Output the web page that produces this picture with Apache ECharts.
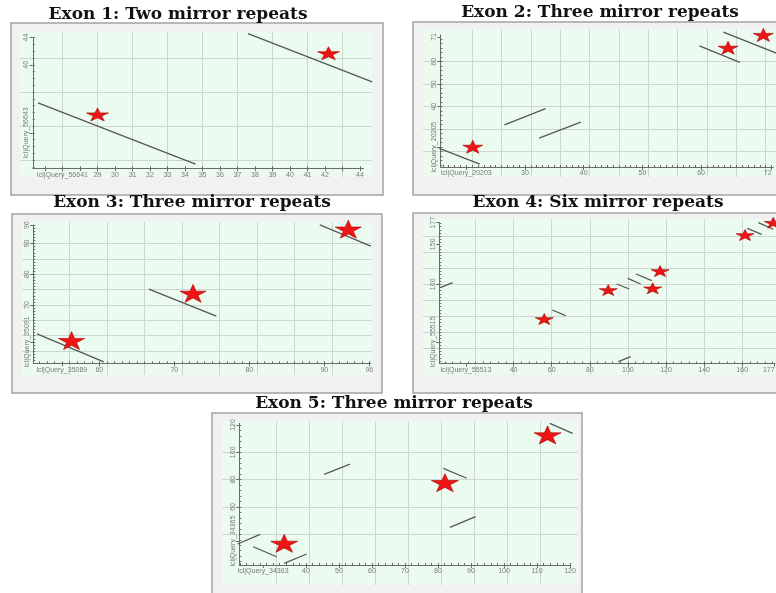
<!DOCTYPE html>
<html>
<head>
<meta charset="utf-8">
<script src="https://cdn.jsdelivr.net/npm/echarts@6/dist/echarts.min.js"></script>
<style>
  html, body { margin: 0; background: #fff; }
  #chart { width: 776px; height: 593px; }
</style>
</head>
<body>
<div id="chart"></div>
<script>
// panel titles and the two query names of each dot plot
const titles = [
  'Exon 1: Two mirror repeats',
  'Exon 2: Three mirror repeats',
  'Exon 3: Three mirror repeats',
  'Exon 4: Six mirror repeats',
  'Exon 5: Three mirror repeats'
]
const queryX = ['lcl|Query_56641', 'lcl|Query_20203', 'lcl|Query_35089', 'lcl|Query_55513', 'lcl|Query_34363']
const queryY = ['lcl|Query_56643', 'lcl|Query_20205', 'lcl|Query_35091', 'lcl|Query_55515', 'lcl|Query_34365']
const queryXAt = [27, 20, 55, 15, 27]
const queryYAt = [30, 22, 58, 28, 35]

// tick labels
const exon1XLabels = [29, 30, 31, 32, 33, 34, 35, 36, 37, 38, 39, 40, 41, 42, 44]
const exon1YLabels = [40, 44]
const exon2XLabels = [30, 40, 50, 60, 72]
const exon2YLabels = [40, 50, 60, 71]
const exon3XLabels = [60, 70, 80, 90, 96]
const exon3YLabels = [70, 80, 90, 96]
const exon4XLabels = [40, 60, 80, 100, 120, 140, 160, 177]
const exon4YLabels = [100, 150, 177]
const exon5XLabels = [40, 50, 60, 70, 80, 90, 100, 110, 120]
const exon5YLabels = [60, 80, 100, 120]

// alignment segments [x1, y1, x2, y2]
const exon1Segments = [[25.6, 34.4, 34.6, 25.4], [37.6, 44.6, 44.7, 37.5]]
const exon2Segments = [[15.4, 21.5, 22.3, 14.5], [26.5, 31.9, 33.5, 39.1], [32.4, 26.0, 39.5, 33.1],
  [59.7, 67.0, 66.6, 59.7], [63.8, 73.1, 72.9, 63.7]]
const exon3Segments = [[51.7, 60.6, 60.6, 51.5], [66.6, 75.2, 75.6, 66.4], [89.4, 96.1, 96.2, 89.2]]
const exon4Segments = [[1.4, 95.8, 8.0, 102.0], [60.3, 67.9, 67.3, 60.8], [94.1, 100.4, 100.7, 94.1],
  [99.9, 107.5, 106.7, 100.4], [104.3, 112.9, 112.5, 104.5], [95.0, 3.3, 101.5, 9.5],
  [162.7, 170.0, 170.2, 162.5], [168.5, 177.0, 176.3, 168.8]]
const exon5Segments = [[19.3, 32.9, 26.1, 40.0], [24.0, 30.9, 31.1, 23.6], [33.4, 18.8, 40.2, 25.6],
  [45.5, 83.9, 53.3, 91.4], [81.6, 88.3, 88.7, 81.0], [83.6, 45.1, 91.4, 52.9], [113.9, 121.2, 120.8, 113.9]]

// mirror repeat markers [x, y]
const exon1Stars = [[29.0, 32.7], [42.2, 41.7]]
const exon2Stars = [[21.1, 22.2], [64.6, 66.2], [70.6, 71.9]]
const exon3Stars = [[56.3, 58.4], [72.5, 73.8], [93.2, 94.7]]
const exon4Stars = [[56.1, 56.6], [89.7, 92.9], [113.0, 95.0], [116.9, 116.6], [161.5, 161.6], [176.3, 177.0]]
const exon5Stars = [[33.4, 33.4], [82.1, 77.8], [113.2, 112.7]]

const STAR = 'path://M50 0 L61.2 34.5 L97.6 34.5 L68.2 55.9 L79.4 90.5 L50 69.1 L20.6 90.5 L31.8 55.9 L2.4 34.5 L38.8 34.5 Z'

function range(a, b, step) {
  const out = []
  for (let v = a; v <= b + 1e-9; v += step) out.push(+v.toFixed(3))
  return out
}

// layout of each panel: px boxes + scale [anchorPx, anchorValue, pxPerUnit]
const panels = [
  {
    titleAt: [178, 6], frame: [11, 23, 383, 195], green: [20, 32, 372, 177],
    xs: [62.5, 27, 17.5], ys: [58, 41, 6.8], xRange: [25.3, 44.2], yRange: [24.8, 44.0],
    xLabels: exon1XLabels, yLabels: exon1YLabels, xTicks: range(26, 44, 1), yTicks: [30, 40, 44],
    xMinor: range(26, 44, 1), yMinor: range(25, 44, 1), xSplit: range(27, 43, 2), ySplit: [26, 31, 36, 41],
    segments: exon1Segments, stars: exon1Stars, star: [22, 13]
  },
  {
    titleAt: [600, 4], frame: [413, 22, 790, 195], green: [423, 29, 776, 177],
    xs: [525, 30, 5.87], ys: [61.7, 60, 2.25], xRange: [15.6, 72.3], yRange: [13.2, 71.9],
    xLabels: exon2XLabels, yLabels: exon2YLabels, alignMax: 'right',
    xMinor: range(16, 72, 1), yMinor: range(14, 70, 2), xSplit: range(21, 71, 5), ySplit: range(20, 60, 10),
    segments: exon2Segments, stars: exon2Stars, star: [20, 13]
  },
  {
    titleAt: [192, 194], frame: [12, 214, 382, 393], green: [22, 222, 372, 375],
    xs: [99.3, 60, 7.5], ys: [274.3, 80, 3.07], xRange: [51.2, 96.2], yRange: [51, 96],
    xLabels: exon3XLabels, yLabels: exon3YLabels,
    xMinor: range(52, 96, 1), yMinor: range(52, 96, 1), xSplit: range(56, 91, 5), ySplit: range(55, 90, 5),
    segments: exon3Segments, stars: exon3Stars, star: [26, 18]
  },
  {
    titleAt: [598, 194], frame: [413, 213, 790, 393], green: [423, 219, 776, 375],
    xs: [551.7, 60, 1.905], ys: [284.3, 100, 0.8], xRange: [1, 177.2], yRange: [1, 177.2],
    xLabels: exon4XLabels, yLabels: exon4YLabels, alignMax: 'right',
    xMinor: range(4, 176, 4), yMinor: range(4, 176, 4), xSplit: range(20, 160, 20), ySplit: range(20, 160, 20),
    segments: exon4Segments, stars: exon4Stars, star: [18, 11]
  },
  {
    titleAt: [394, 395], frame: [212, 413, 582, 600], green: [222, 421, 578, 585],
    xs: [306, 40, 3.3], ys: [452.3, 100, 1.367], xRange: [19.8, 120.2], yRange: [17.6, 121.2],
    xLabels: exon5XLabels, yLabels: exon5YLabels,
    xMinor: range(20, 120, 2), yMinor: range(20, 120, 4), xSplit: range(31, 111, 10), ySplit: range(40, 100, 20),
    segments: exon5Segments, stars: exon5Stars, star: [27, 18]
  }
]

const valX = (s, px) => s[1] + (px - s[0]) / s[2]
const pxX = (s, v) => s[0] + (v - s[1]) * s[2]
const valY = (s, py) => s[1] - (py - s[0]) / s[2]
const pxY = (s, v) => s[0] - (v - s[1]) * s[2]

const axisColor = '#6a6a6a'
const grids = []
const xAxes = []
const yAxes = []
const series = []
const graphics = []

function makeAxes(dim, i, p) {
  const isX = dim === 'x'
  const s = isX ? p.xs : p.ys
  const g = p.green
  const r = isX ? p.xRange : p.yRange
  const labels = isX ? p.xLabels : p.yLabels
  const qAt = isX ? queryXAt[i] : queryYAt[i]
  const names = {}
  labels.forEach(v => { names[v] = String(v) })
  names[qAt] = isX ? queryX[i] : queryY[i]
  const majors = (isX ? p.xTicks : p.yTicks) || labels.concat([qAt])
  const pos = isX ? 'bottom' : 'left'
  const base = {
    type: 'value', position: pos,
    axisLine: { show: false }, axisTick: { show: false }, axisLabel: { show: false }, splitLine: { show: false }
  }
  const label = {
    show: true, customValues: Object.keys(names).map(Number),
    formatter: v => names[v] || '',
    rotate: isX ? 0 : 90, margin: 3,
    fontSize: 7, fontFamily: 'Liberation Sans', color: '#7a7a7a'
  }
  if (isX && p.alignMax) label.alignMaxLabel = p.alignMax
  return [
    // green plot area: grid lines only
    Object.assign({}, base, {
      gridIndex: 2 * i,
      min: isX ? valX(s, g[0]) : valY(s, g[3]),
      max: isX ? valX(s, g[2]) : valY(s, g[1]),
      axisTick: { show: false, customValues: isX ? p.xSplit : p.ySplit },
      splitLine: { show: true, lineStyle: { color: '#ccd5cf', width: 1 } }
    }),
    // axis line, major ticks and labels
    Object.assign({}, base, {
      gridIndex: 2 * i + 1, min: r[0], max: r[1],
      axisLine: { show: true, onZero: false, lineStyle: { color: axisColor, width: 1 } },
      axisTick: { show: true, customValues: majors, length: 3, lineStyle: { color: axisColor } },
      axisLabel: label
    }),
    // minor ticks
    Object.assign({}, base, {
      gridIndex: 2 * i + 1, min: r[0], max: r[1],
      axisTick: { show: true, inside: true, length: 2, customValues: isX ? p.xMinor : p.yMinor,
        lineStyle: { color: axisColor } }
    })
  ]
}

panels.forEach((p, i) => {
  const g = p.green
  const f = p.frame
  graphics.push({
    type: 'rect', z: -100, silent: true,
    shape: { x: f[0], y: f[1], width: f[2] - f[0], height: f[3] - f[1] },
    style: { fill: '#f1f1f1', stroke: '#a2a2a2', lineWidth: 1.5 }
  })
  graphics.push({
    type: 'rect', z: -50, silent: true,
    shape: { x: g[0], y: g[1], width: g[2] - g[0], height: g[3] - g[1] },
    style: { fill: '#ecfbef' }
  })
  grids.push({ left: g[0], top: g[1], width: g[2] - g[0], height: g[3] - g[1], containLabel: false, outerBoundsMode: 'none' })
  const ax0 = pxX(p.xs, p.xRange[0])
  const ax1 = pxX(p.xs, p.xRange[1])
  const ay0 = pxY(p.ys, p.yRange[1])
  const ay1 = pxY(p.ys, p.yRange[0])
  grids.push({ left: ax0, top: ay0, width: ax1 - ax0, height: ay1 - ay0, containLabel: false, outerBoundsMode: 'none' })

  makeAxes('x', i, p).forEach(a => xAxes.push(a))
  makeAxes('y', i, p).forEach(a => yAxes.push(a))

  series.push({
    type: 'lines', coordinateSystem: 'cartesian2d', xAxisIndex: 3 * i, yAxisIndex: 3 * i,
    silent: true, clip: false,
    lineStyle: { color: '#575757', width: 1.3, opacity: 1 },
    data: p.segments.map(s => ({ coords: [[s[0], s[1]], [s[2], s[3]]] }))
  })
  series.push({
    type: 'scatter', xAxisIndex: 3 * i, yAxisIndex: 3 * i, silent: true, clip: false,
    symbol: STAR, symbolSize: p.star,
    itemStyle: { color: '#ef1515', borderColor: '#a40000', borderWidth: 0.6, opacity: 1 },
    data: p.stars
  })
})

const chart = echarts.init(document.getElementById('chart'))
chart.setOption({
  animation: false,
  backgroundColor: '#fff',
  title: panels.map((p, i) => ({
    text: titles[i], left: p.titleAt[0], top: p.titleAt[1], textAlign: 'center', padding: 0,
    textStyle: { fontFamily: 'DejaVu Serif', fontWeight: 'bold', fontSize: 17, color: '#111' }
  })),
  graphic: { elements: graphics },
  grid: grids,
  xAxis: xAxes,
  yAxis: yAxes,
  series: series
})
</script>
</body>
</html>
